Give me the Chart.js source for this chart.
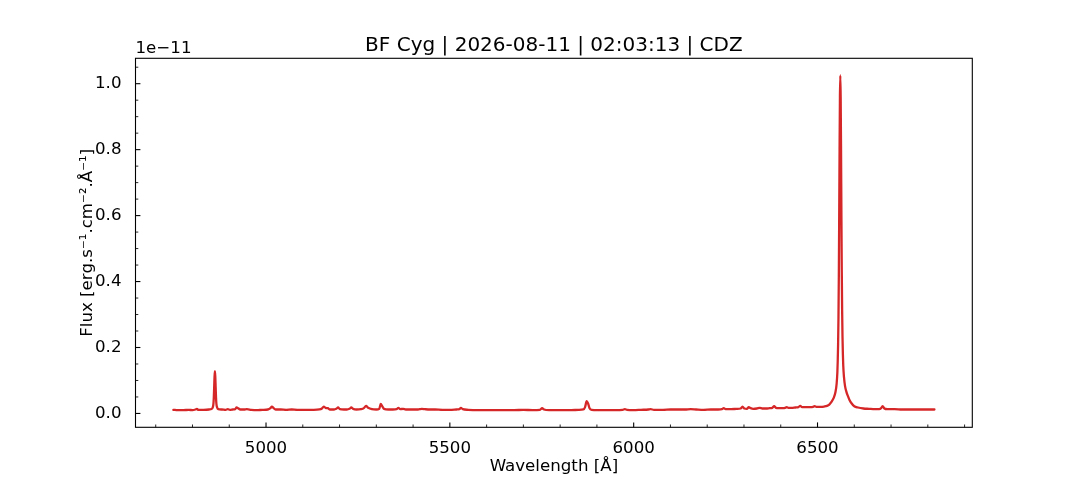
<!DOCTYPE html>
<html>
<head>
<meta charset="utf-8">
<script src="https://cdn.jsdelivr.net/npm/chart.js@4/dist/chart.umd.min.js"></script>
<style>html,body{margin:0;padding:0;background:#fff;}canvas{display:block;}</style>
</head>
<body>
<canvas id="c" width="1080" height="480"></canvas>
<script>
const wavelength = [
  4748,4760,4775,4790,4800,4808,4812,4816,4830,4845,
  4852,4855,4857,4858,4859,4860,4861,4862,4863,4864,
  4865,4867,4870,4880,
  4890,4896,4902,4910,4916,4920,4924,4930,4940,4948,
  4960,4975,4990,5005,5012,5016,5020,5026,5040,5055,
  5070,5085,5100,5115,5130,5145,5152,5157,5162,5168,
  5174,5185,5191,5196,5201,5212,5220,5227,5232,5237,
  5246,5258,5266,5272,5278,5288,5300,5308,5312,5316,
  5321,5333,5345,5355,5360,5365,5373,5380,5395,5410,
  5418,5424,5432,5445,5460,5480,5500,5518,5526,5530,
  5535,5550,5575,5600,5625,5650,5675,5700,5725,5745,
  5751,5756,5770,5800,5830,5850,5863,5868,5872,5876,
  5880,5886,5900,5925,5950,5970,5976,5982,6000,6020,
  6040,6046,6055,6080,6100,6120,6140,6155,6170,6190,
  6210,6230,6240,6245,6250,6265,6280,6291,6296,6301,
  6308,6313,6318,6325,6335,6343,6350,6360,6370,6377,
  6382,6387,6395,6405,6412,6416,6421,6430,6440,6448,
  6453,6458,6470,6480,6488,6492,6497,6508,6518,6526,
  6532,6538,6544,6549,6552,6554,6555,6556,6557,6558,
  6559,6560,6561,6562,6563,6564,6565,6566,6567,6568,
  6569,6570,6572,6575,6579,6583,6587,6593,6600,6610,
  6625,6640,6655,6668,6673,6677,6682,6690,6710,6730,
  6750,6770,6790,6805,6818
];
const flux = [
  0.011,0.010,0.010,0.011,0.010,0.012,0.014,0.011,0.011,0.012,
  0.014,0.018,0.030,0.048,0.080,0.112,0.128,0.112,0.080,0.048,
  0.030,0.018,0.013,0.012,
  0.011,0.013,0.011,0.012,0.013,0.018,0.016,0.012,0.012,0.013,
  0.011,0.010,0.011,0.012,0.016,0.021,0.017,0.012,0.012,0.011,
  0.012,0.011,0.011,0.011,0.011,0.012,0.015,0.021,0.017,0.016,
  0.012,0.012,0.014,0.018,0.013,0.012,0.012,0.014,0.018,0.014,
  0.012,0.013,0.016,0.023,0.017,0.013,0.012,0.014,0.029,0.022,
  0.014,0.012,0.012,0.013,0.017,0.013,0.014,0.012,0.012,0.012,
  0.013,0.014,0.013,0.012,0.012,0.011,0.011,0.012,0.013,0.017,
  0.013,0.011,0.010,0.010,0.010,0.010,0.010,0.011,0.010,0.011,
  0.016,0.012,0.010,0.010,0.010,0.011,0.012,0.020,0.037,0.030,
  0.016,0.011,0.010,0.010,0.010,0.011,0.013,0.011,0.010,0.011,
  0.012,0.013,0.011,0.011,0.012,0.012,0.012,0.013,0.012,0.011,
  0.012,0.012,0.013,0.016,0.013,0.013,0.014,0.015,0.021,0.015,
  0.014,0.019,0.016,0.014,0.015,0.017,0.015,0.015,0.016,0.017,
  0.022,0.017,0.016,0.016,0.017,0.019,0.017,0.017,0.018,0.019,
  0.023,0.019,0.019,0.019,0.020,0.022,0.020,0.020,0.021,0.023,
  0.027,0.035,0.047,0.066,0.090,0.125,0.160,0.210,0.290,0.420,
  0.600,0.800,0.960,1.025,0.960,0.800,0.600,0.430,0.310,0.230,
  0.180,0.145,0.110,0.082,0.064,0.052,0.041,0.030,0.022,0.018,
  0.015,0.014,0.013,0.013,0.016,0.022,0.015,0.013,0.013,0.012,
  0.012,0.012,0.012,0.012,0.012
];
const xTicks = [5000, 5500, 6000, 6500];
const xMinorTicks = [4700,4800,4900,5100,5200,5300,5400,5600,5700,5800,5900,6100,6200,6300,6400,6600,6700,6800,6900];
const yTicks = [0.0, 0.2, 0.4, 0.6, 0.8, 1.0];
const yMinorTicks = [0.05,0.10,0.15,0.25,0.30,0.35,0.45,0.50,0.55,0.65,0.70,0.75,0.85,0.90,0.95,1.05];
const titleText = 'BF Cyg | 2026-08-11 | 02:03:13 | CDZ';
const xLabel = 'Wavelength [Å]';
const yLabel = 'Flux [erg.s⁻¹.cm⁻².Å⁻¹]';
const offsetText = '1e\u221211';

const FONT = 'DejaVu Sans';
const FS = 16.67;

const decor = {
  id: 'decor',
  afterDraw(chart) {
    const ctx = chart.ctx;
    const a = chart.chartArea;
    const xs = chart.scales.x, ys = chart.scales.y;
    ctx.save();
    ctx.strokeStyle = '#000';
    const tick = (x1, y1, x2, y2, w) => {
      ctx.lineWidth = w;
      ctx.beginPath(); ctx.moveTo(x1, y1); ctx.lineTo(x2, y2); ctx.stroke();
    };
    xTicks.forEach(v => { const p = xs.getPixelForValue(v); tick(p, a.bottom, p, a.bottom - 4.9, 1.1); });
    xMinorTicks.forEach(v => { const p = xs.getPixelForValue(v); tick(p, a.bottom, p, a.bottom - 2.8, 0.85); });
    yTicks.forEach(v => { const p = ys.getPixelForValue(v); tick(a.left, p, a.left + 4.9, p, 1.1); });
    yMinorTicks.forEach(v => { const p = ys.getPixelForValue(v); tick(a.left, p, a.left + 2.8, p, 0.85); });
    ctx.lineWidth = 1.1;
    ctx.strokeRect(a.left, a.top, a.right - a.left, a.bottom - a.top);
    ctx.fillStyle = '#000';
    ctx.textBaseline = 'alphabetic';
    ctx.font = `20px "${FONT}"`;
    ctx.textAlign = 'center';
    ctx.fillText(titleText, (a.left + a.right) / 2, 50.7);
    ctx.font = `${FS}px "${FONT}"`;
    ctx.fillText(xLabel, (a.left + a.right) / 2, 470.7);
    ctx.textAlign = 'left';
    ctx.fillText(offsetText, a.left, 53.3);
    ctx.translate(92.3, (a.top + a.bottom) / 2);
    ctx.rotate(-Math.PI / 2);
    ctx.textAlign = 'center';
    ctx.fillText(yLabel, 0, 0);
    ctx.restore();
  }
};

new Chart(document.getElementById('c'), {
  type: 'line',
  data: {
    datasets: [{
      data: wavelength.map((w, i) => ({ x: w, y: flux[i] })),
      borderColor: '#d62728',
      borderWidth: 2.3,
      borderJoinStyle: 'round',
      borderCapStyle: 'round',
      cubicInterpolationMode: 'monotone',
      pointRadius: 0,
      fill: false
    }]
  },
  options: {
    responsive: false,
    animation: false,
    devicePixelRatio: 1,
    layout: { padding: { left: 0, top: 58.3, right: 107.7, bottom: 0 } },
    plugins: { legend: { display: false }, tooltip: { enabled: false }, title: { display: false } },
    scales: {
      x: {
        type: 'linear', min: 4645, max: 6921,
        afterBuildTicks: s => { s.ticks = xTicks.map(v => ({ value: v })); },
        afterFit: s => { s.height = 52.7; },
        grid: { display: false }, border: { display: false },
        ticks: { color: '#000', font: { family: FONT, size: FS }, padding: 3, maxRotation: 0, autoSkip: false, callback: v => String(v) }
      },
      y: {
        type: 'linear', min: -0.042, max: 1.077,
        afterBuildTicks: s => { s.ticks = yTicks.map(v => ({ value: v })); },
        afterFit: s => { s.width = 135.5; },
        grid: { display: false }, border: { display: false },
        ticks: { color: '#000', font: { family: FONT, size: FS }, padding: 6, autoSkip: false, callback: v => v.toFixed(1) }
      }
    }
  },
  plugins: [decor]
});
</script>
</body>
</html>
